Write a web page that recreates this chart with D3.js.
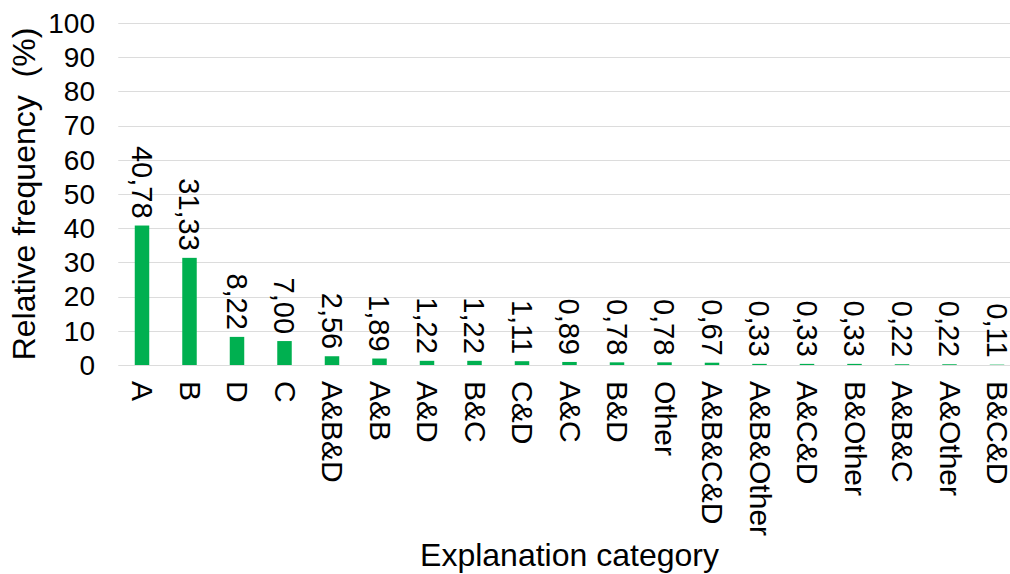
<!DOCTYPE html>
<html>
<head>
<meta charset="utf-8">
<script src="https://cdn.jsdelivr.net/npm/d3@7"></script>
<style>
  body { margin: 0; background: #fff; }
  svg { font-family: "Liberation Sans", Arial, Helvetica, sans-serif; }
</style>
</head>
<body>
<svg id="chart" width="1010" height="574"></svg>
<script>
// chart data
const categories = ["A", "B", "D", "C", "A&B&D", "A&B", "A&D", "B&C", "C&D", "A&C",
                    "B&D", "Other", "A&B&C&D", "A&B&Other", "A&C&D", "B&Other", "A&B&C", "A&Other", "B&C&D"];
const values = [40.78, 31.33, 8.22, 7.00, 2.56, 1.89, 1.22, 1.22, 1.11, 0.89,
                0.78, 0.78, 0.67, 0.33, 0.33, 0.33, 0.22, 0.22, 0.11];
const yTicks = [0, 10, 20, 30, 40, 50, 60, 70, 80, 90, 100];
const yTitle = "Relative frequency\u00a0\u00a0(%)";
const xTitle = "Explanation category";

const svg = d3.select("#chart");
const plotLeft = 118.25, plotTop = 23, plotBottom = 365;
const step = 47.5;

const xScale = d3.scaleBand()
    .domain(categories)
    .range([plotLeft, plotLeft + step * categories.length])
    .paddingInner(0.695)
    .paddingOuter(0.3475);

const yScale = d3.scaleLinear()
    .domain([0, 100])
    .range([plotBottom, plotTop]);

const fmt = d3.formatLocale({decimal: ",", thousands: ".", grouping: [3], currency: ["", ""]}).format(".2f");

// gridlines
svg.append("g")
    .selectAll("line")
    .data(yTicks)
    .join("line")
    .attr("x1", plotLeft)
    .attr("x2", 1010)
    .attr("y1", d => Math.round(yScale(d)) + 0.5)
    .attr("y2", d => Math.round(yScale(d)) + 0.5)
    .attr("stroke", "#dcdcdc")
    .attr("stroke-width", 1);

// y tick labels
svg.append("g")
    .selectAll("text")
    .data(yTicks)
    .join("text")
    .attr("x", 95)
    .attr("y", d => yScale(d))
    .attr("dy", "0.35em")
    .attr("text-anchor", "end")
    .attr("font-size", 28)
    .attr("fill", "#000")
    .text(d => d);

// bars
svg.append("g")
    .selectAll("rect")
    .data(values)
    .join("rect")
    .attr("x", (d, i) => xScale(categories[i]))
    .attr("y", d => yScale(d))
    .attr("width", xScale.bandwidth())
    .attr("height", d => plotBottom - yScale(d))
    .attr("fill", "#00b050");

// value labels, rotated
svg.append("g")
    .selectAll("text")
    .data(values)
    .join("text")
    .attr("transform", (d, i) => `translate(${xScale(categories[i]) + xScale.bandwidth() / 2}, ${yScale(d) - 7}) rotate(90)`)
    .attr("dy", "0.35em")
    .attr("text-anchor", "end")
    .attr("font-size", 29)
    .attr("fill", "#000")
    .text(d => fmt(d));

// category labels, rotated
svg.append("g")
    .selectAll("text")
    .data(categories)
    .join("text")
    .attr("transform", d => `translate(${xScale(d) + xScale.bandwidth() / 2 + 0.5}, 381) rotate(90)`)
    .attr("dy", "0.35em")
    .attr("text-anchor", "start")
    .attr("font-size", 30)
    .attr("fill", "#000")
    .text(d => d);

// axis titles
svg.append("text")
    .attr("x", (plotLeft + plotLeft + step * categories.length) / 2)
    .attr("y", 566)
    .attr("text-anchor", "middle")
    .attr("font-size", 32)
    .attr("fill", "#000")
    .text(xTitle);

svg.append("text")
    .attr("transform", `translate(35, ${(plotTop + plotBottom) / 2}) rotate(-90)`)
    .attr("text-anchor", "middle")
    .attr("font-size", 32)
    .attr("fill", "#000")
    .text(yTitle);
</script>
</body>
</html>
